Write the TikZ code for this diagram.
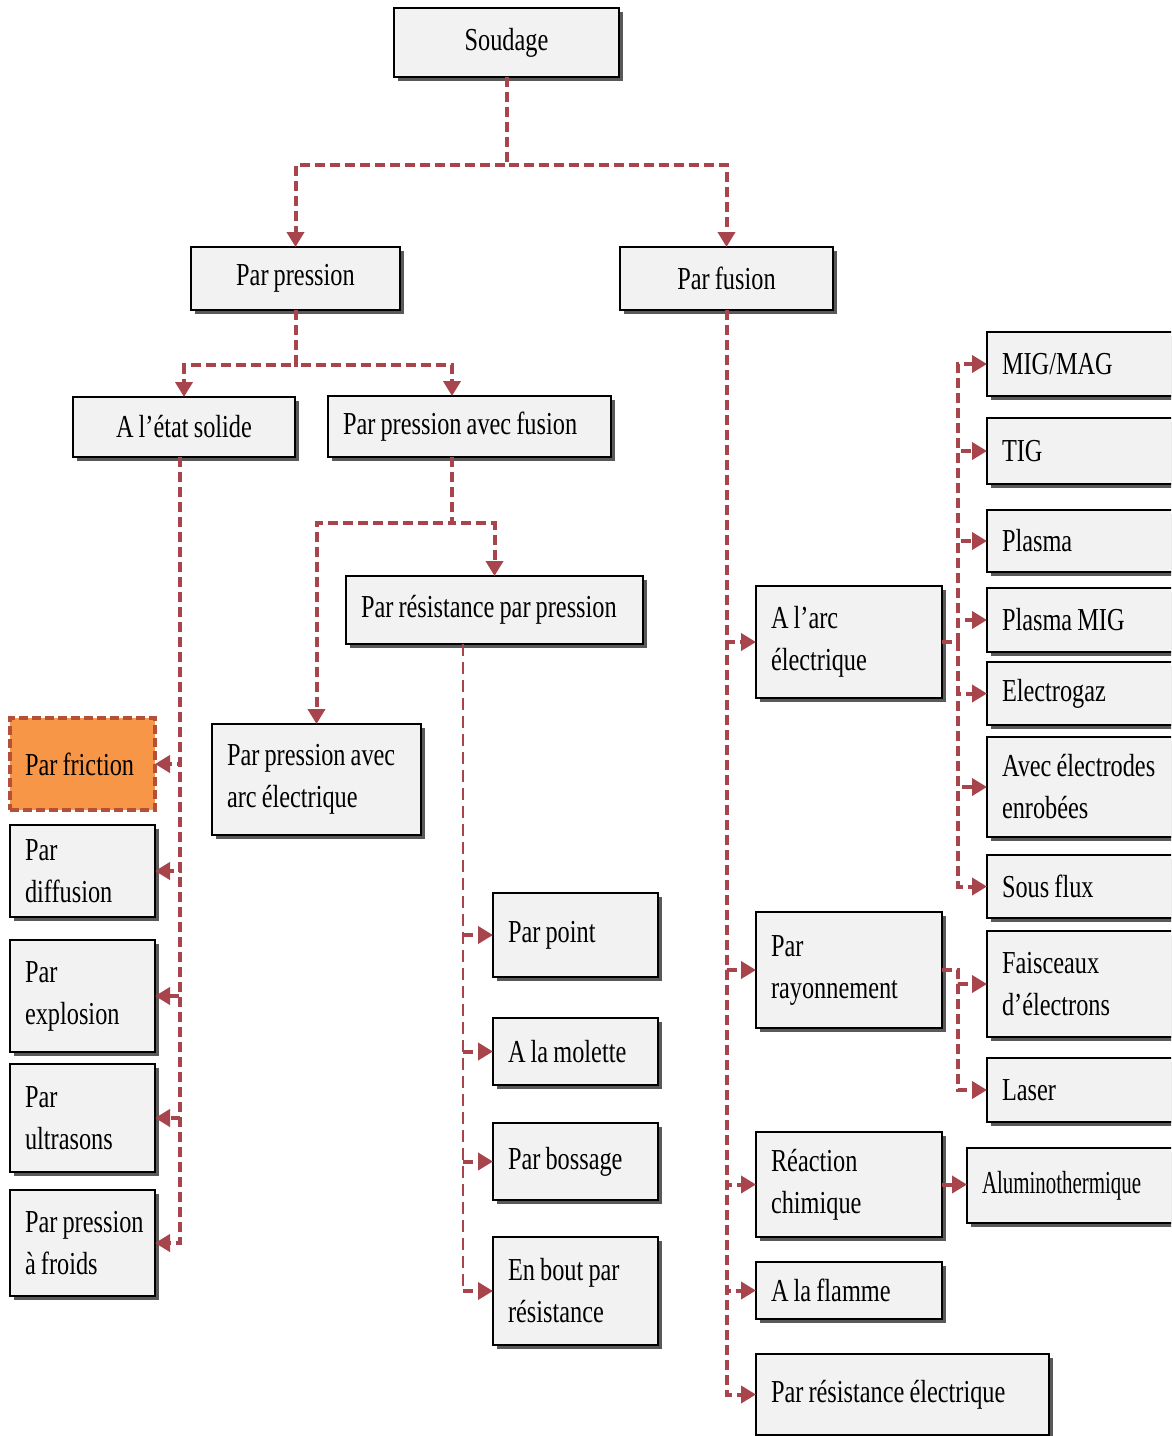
\documentclass[tikz,border=0pt]{standalone}
\usepackage{fontspec}
\setmainfont{Liberation Serif}[FakeStretch=0.76]
\usetikzlibrary{arrows.meta,shadows,calc}
\definecolor{boxfill}{RGB}{242,242,242}
\definecolor{linkred}{RGB}{168,68,76}
\definecolor{orangefill}{RGB}{247,150,70}
\definecolor{orangeborder}{RGB}{180,80,55}
\newcommand{\boxfont}{\fontsize{32}{42}\selectfont\hyphenpenalty=10000\exhyphenpenalty=10000}
\tikzset{
  box/.style={draw=black, line width=1.6pt, fill=boxfill, anchor=north west,
    inner xsep=15pt, inner ysep=0pt, outer sep=0pt, align=left,
    font=\boxfont, execute at begin node={\spaceskip=0.16em\xspaceskip=0.16em},
    drop shadow={shadow xshift=4pt, shadow yshift=-4pt, fill=black!65, opacity=1}},
  cbox/.style={box, align=center},
  obox/.style={draw=orangeborder, line width=3.5pt, dash pattern=on 9pt off 4pt,
    fill=orangefill, anchor=north west, inner xsep=15pt, inner ysep=0pt, outer sep=0pt,
    align=left, font=\boxfont, execute at begin node={\spaceskip=0.16em\xspaceskip=0.16em}},
  conn/.style={draw=linkred, line width=4pt, dash pattern=on 10pt off 5pt,
    -{Triangle[length=15pt,width=17pt]}},
  thintrunk/.style={draw=linkred, line width=2pt, dash pattern=on 12pt off 6pt},
}
\begin{document}
\begin{tikzpicture}[x=1pt,y=-1pt]
\useasboundingbox (0,0) rectangle (1171,1436);
\fill[white] (0,0) rectangle (1171,1436);
\clip (0,0) rectangle (1171,1436);

% top levels
\node[cbox, minimum width=225, minimum height=69, text width=195pt] (soud) at (394,8) {Soudage};
\node[cbox, minimum width=209, minimum height=63, text width=179pt] (pp) at (191,247) {Par pression};
\node[cbox, minimum width=213, minimum height=63, text width=183pt] (pf) at (620,247) {Par fusion};
\node[cbox, minimum width=222, minimum height=60, text width=192pt] (sol) at (73,397) {A l’état solide};
\node[box, minimum width=283, minimum height=61, text width=253pt] (ppf) at (328,396) {Par~pression~avec~fusion};
\node[box, minimum width=297, minimum height=68, text width=267pt] (rpp) at (346,576) {Par~résistance~par~pression};
\node[box, minimum width=209, minimum height=111, text width=179pt] (ppa) at (212,724) {Par~pression~avec\\arc~électrique};

% left column
\node[obox, minimum width=145, minimum height=92, text width=115pt] (fric) at (10,718) {Par~friction};
\node[box, minimum width=145, minimum height=92, text width=115pt] (diff) at (10,825) {Par\\diffusion};
\node[box, minimum width=145, minimum height=112, text width=115pt] (expl) at (10,940) {Par\\explosion};
\node[box, minimum width=145, minimum height=108, text width=115pt] (ultr) at (10,1064) {Par\\ultrasons};
\node[box, minimum width=145, minimum height=106, text width=115pt] (froi) at (10,1190) {Par~pression\\à~froids};

% middle column
\node[box, minimum width=165, minimum height=84, text width=135pt] (point) at (493,893) {Par~point};
\node[box, minimum width=165, minimum height=67, text width=135pt] (mol) at (493,1018) {A~la~molette};
\node[box, minimum width=165, minimum height=77, text width=135pt] (boss) at (493,1123) {Par~bossage};
\node[box, minimum width=165, minimum height=108, text width=135pt] (bout) at (493,1237) {En~bout~par\\résistance};

% fusion column
\node[box, minimum width=186, minimum height=112, text width=156pt] (aarc) at (756,586) {A~l’arc\\électrique};
\node[box, minimum width=186, minimum height=116, text width=156pt] (ray) at (756,912) {Par\\rayonnement};
\node[box, minimum width=186, minimum height=105, text width=156pt] (reac) at (756,1132) {Réaction\\chimique};
\node[box, minimum width=186, minimum height=57, text width=156pt] (flam) at (756,1262) {A~la~flamme};
\node[box, minimum width=293, minimum height=81, text width=263pt] (rel) at (756,1354) {Par~résistance~électrique};

% right column
\node[box, minimum width=210, minimum height=64, text width=180pt] (mig) at (987,332) {MIG/MAG};
\node[box, minimum width=210, minimum height=66, text width=180pt] (tig) at (987,418) {TIG};
\node[box, minimum width=210, minimum height=62, text width=180pt] (plas) at (987,510) {Plasma};
\node[box, minimum width=210, minimum height=64, text width=180pt] (pmig) at (987,588) {Plasma~MIG};
\node[box, minimum width=210, minimum height=63, text width=180pt] (elec) at (987,662) {Electrogaz};
\node[box, minimum width=210, minimum height=100, text width=180pt] (enro) at (987,737) {Avec~électrodes\\enrobées};
\node[box, minimum width=210, minimum height=63, text width=180pt] (sflu) at (987,855) {Sous~flux};
\node[box, minimum width=210, minimum height=106, text width=180pt] (fais) at (987,931) {Faisceaux\\d’électrons};
\node[box, minimum width=210, minimum height=64, text width=180pt] (las) at (987,1058) {Laser};
\node[box, minimum width=230, minimum height=75, text width=200pt] (alu) at (967,1148) {\scalebox{0.86}[1]{Aluminothermique}};

% connectors: Soudage
\coordinate (s1) at ($(soud.south)+(0,88)$);
\draw[conn] (soud.south) -- (s1) -| (pp.north);
\draw[conn] (soud.south) -- (s1) -| (pf.north);

% Par pression
\coordinate (p1) at ($(pp.south)+(0,55)$);
\coordinate (ppfin) at ($(ppf.north west)+(124,0)$);
\draw[conn] (pp.south) -- (p1) -| (sol.north);
\draw[conn] (pp.south) -- (p1) -| (ppfin);

% Par pression avec fusion
\coordinate (f0) at ($(ppf.south west)+(124,0)$);
\coordinate (f1) at ($(f0)+(0,66)$);
\draw[conn] (f0) -- (f1) -| (rpp.north);
\draw[conn] (f0) -- (f1) -| (ppa.north);

% A l'etat solide
\coordinate (l0) at ($(sol.south)+(-4,0)$);
\foreach \t in {fric,diff,expl,ultr,froi}
  \draw[conn] (l0) |- (\t.east);

% Par resistance par pression
\coordinate (t0) at ($(rpp.south west)+(117,0)$);
\draw[thintrunk] (t0) -- (t0 |- bout.west);
\foreach \t in {point,mol,boss,bout}
  \draw[conn] (t0 |- \t.west) -- (\t.west);

% Par fusion
\foreach \t in {aarc,ray,reac,flam,rel}
  \draw[conn] (pf.south) |- (\t.west);

% A l'arc electrique
\coordinate (a0) at ($(aarc.east)+(16,0)$);
\foreach \t in {mig,tig,plas,pmig,elec,enro,sflu}
  \draw[conn] (aarc.east) -- (a0) |- (\t.west);

% Par rayonnement
\coordinate (r0) at ($(ray.east)+(16,0)$);
\foreach \t in {fais,las}
  \draw[conn] (ray.east) -- (r0) |- (\t.west);

% Reaction chimique
\draw[conn] (reac.east) -- (reac.east -| alu.west);
\end{tikzpicture}
\end{document}
